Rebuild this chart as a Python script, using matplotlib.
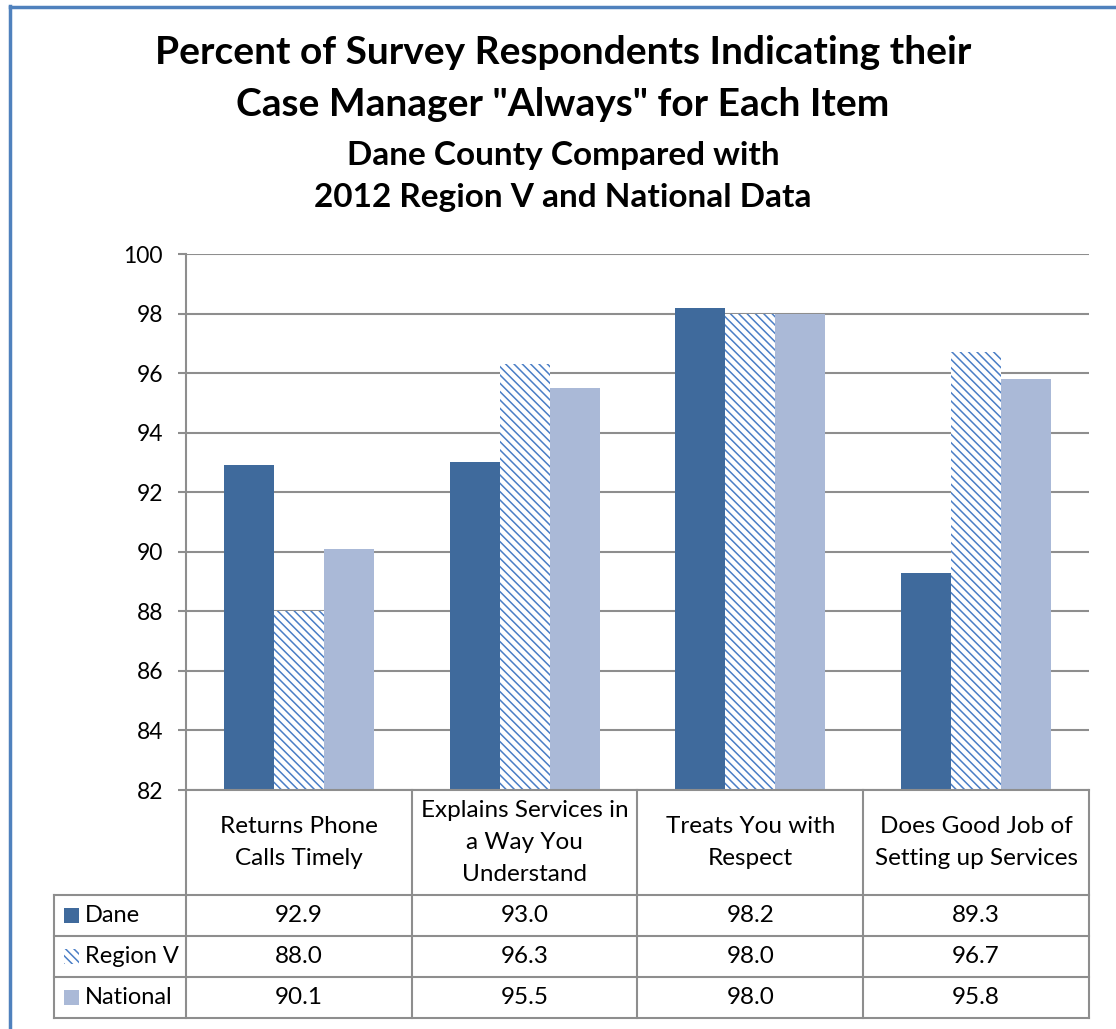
import matplotlib
matplotlib.use("Agg")
import matplotlib.pyplot as plt
import numpy as np
from matplotlib.patches import Rectangle
from matplotlib.lines import Line2D

plt.rcParams["font.family"] = ["Lato", "DejaVu Sans"]

categories = ["Returns Phone\nCalls Timely",
              "Explains Services in\na Way You\nUnderstand",
              "Treats You with\nRespect",
              "Does Good Job of\nSetting up Services"]
series_names = ["Dane", "Region V", "National"]
dane = [92.9, 93.0, 98.2, 89.3]
region_v = [88.0, 96.3, 98.0, 96.7]
national = [90.1, 95.5, 98.0, 95.8]
yticks = [82, 84, 86, 88, 90, 92, 94, 96, 98, 100]

values = [dane, region_v, national]
styles = [
    dict(facecolor="#3F6A9C", edgecolor="#3F6A9C", hatch=None),
    dict(facecolor="white", edgecolor="#4A7EC6", hatch="\\\\\\\\"),
    dict(facecolor="#AAB9D7", edgecolor="#AAB9D7", hatch=None),
]
grid_col = "#8E8E8E"

W, H = 1116, 1029
fig = plt.figure(figsize=(W / 100, H / 100), dpi=100)
plt.rcParams["hatch.linewidth"] = 1.1

def fx(px):
    return px / W

def fy(py):
    return 1 - py / H

# plot area
ax = fig.add_axes([fx(186), fy(790), fx(1089 - 186), (790 - 254) / H])
x = np.arange(len(categories))
bw = 50 / 226
for k, (vals, st) in enumerate(zip(values, styles)):
    ax.bar(x + (k - 1) * bw, vals, width=bw, bottom=0, linewidth=0,
           zorder=3, **st)
ax.set_ylim(82, 100)
ax.set_xlim(-0.5, len(categories) - 0.5)
ax.set_yticks(yticks)
ax.set_yticklabels([str(t) for t in yticks], fontsize=16.5)
ax.yaxis.grid(True, color=grid_col, linewidth=1.5, zorder=0)
ax.set_xticks([])
for s in ["top", "right", "bottom"]:
    ax.spines[s].set_visible(False)
ax.spines["left"].set_color(grid_col)
ax.spines["left"].set_linewidth(1.5)
ax.tick_params(axis="y", length=5.5, width=1.5, color=grid_col, pad=11)

# data table below
tax = fig.add_axes([fx(54), fy(1018), fx(1089 - 54), (1018 - 790) / H])
lab_w = 132 / 226
x0 = -0.5 - lab_w
x1 = len(categories) - 0.5
tax.set_xlim(x0, x1)
tax.set_ylim(228, 0)
tax.axis("off")
hdr = 105
row_h = 41
lk = dict(color=grid_col, linewidth=1.5, clip_on=False)
# header row
tax.plot([-0.5, x1], [0, 0], **lk)
for i in range(len(categories) + 1):
    tax.plot([i - 0.5, i - 0.5], [0, 228], **lk)
tax.plot([x0, x0], [hdr, 228], **lk)
for r in range(len(series_names) + 1):
    yy = hdr + r * row_h
    tax.plot([x0, x1], [yy, yy], **lk)
for i, c in enumerate(categories):
    tax.text(i, hdr / 2, c, ha="center", va="center", fontsize=17.5,
             linespacing=1.62)
for r, (name, vals, st) in enumerate(zip(series_names, values, styles)):
    yc = hdr + r * row_h + row_h / 2
    tax.add_patch(Rectangle((x0 + 10 / 226, yc - 7.5), 15 / 226, 15,
                            linewidth=0, **st))
    tax.text(x0 + 31 / 226, yc, name, ha="left", va="center", fontsize=17)
    for i, v in enumerate(vals):
        tax.text(i, yc, f"{v:.1f}", ha="center", va="center", fontsize=17.5)

# titles
fig.text(0.5045, fy(53), "Percent of Survey Respondents Indicating their",
         ha="center", va="center", fontsize=28, fontweight="bold")
fig.text(0.5045, fy(105), 'Case Manager "Always" for Each Item',
         ha="center", va="center", fontsize=28, fontweight="bold")
fig.text(0.5045, fy(155), "Dane County Compared with",
         ha="center", va="center", fontsize=24, fontweight="bold")
fig.text(0.5045, fy(198), "2012 Region V and National Data",
         ha="center", va="center", fontsize=24, fontweight="bold")

# blue frame edges
fig.add_artist(Line2D([fx(10), fx(10)], [0, fy(6)], color="#4F81BD", linewidth=2.5))
fig.add_artist(Line2D([fx(10), 1], [fy(7), fy(7)], color="#4F81BD", linewidth=2.5))

fig.savefig("out.png", dpi=100)
